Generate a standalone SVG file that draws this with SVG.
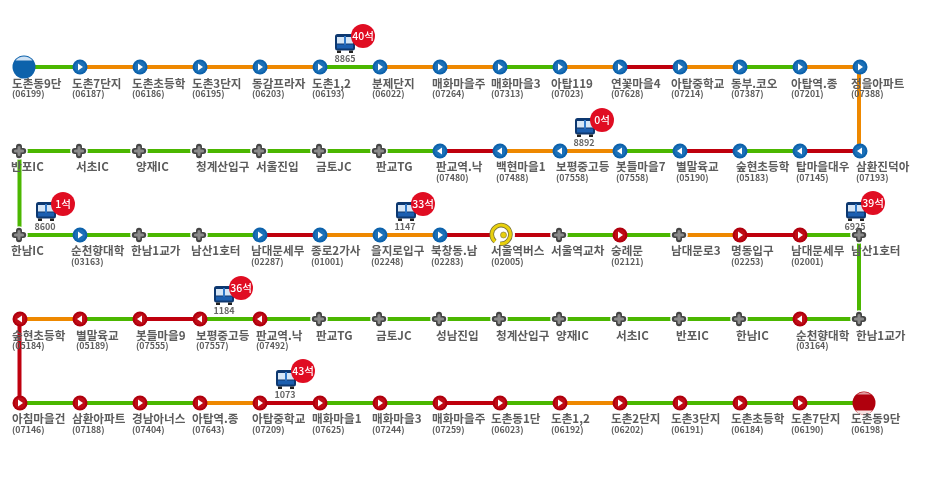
<svg xmlns="http://www.w3.org/2000/svg" width="939" height="478" viewBox="0 0 939 478">
<style>
text{font-family:"Noto Sans CJK KR","Noto Sans",sans-serif;fill:#5c5c5c}
.n{font-size:11.6px;font-weight:700}
.c{font-size:8.8px;font-weight:700}
.b{font-size:9px;text-anchor:middle;font-weight:700;fill:#666}
.s{font-size:10.5px;fill:#fff;text-anchor:middle;font-weight:500}
.g,.o,.r{fill:none;stroke-width:4}
.g{stroke:#4cb700}.o{stroke:#ee8800}.r{stroke:#bf0010}
.x0{stroke:#444;stroke-width:6;stroke-linecap:round;fill:none}
.x1{stroke:#8a8a8a;stroke-width:3;stroke-linecap:round;fill:none}
</style>
<defs>
<filter id="soft" x="0" y="0" width="100%" height="100%"><feGaussianBlur stdDeviation="0.4"/></filter>
<symbol id="bl" overflow="visible"><circle r="7.5" fill="#0e62ab"/><circle r="5.5" fill="#1a70b8"/><path d="M-2-3.5 3 0-2 3.5Z" fill="#fff"/></symbol>
<symbol id="bll" overflow="visible"><circle r="7.5" fill="#0e62ab"/><circle r="5.5" fill="#1a70b8"/><path d="M2-3.5-3 0 2 3.5Z" fill="#fff"/></symbol>
<symbol id="rr" overflow="visible"><circle r="7.5" fill="#b0050f"/><circle r="5.5" fill="#bf0a18"/><path d="M-2-3.5 3 0-2 3.5Z" fill="#fff"/></symbol>
<symbol id="rl" overflow="visible"><circle r="7.5" fill="#b0050f"/><circle r="5.5" fill="#bf0a18"/><path d="M2-3.5-3 0 2 3.5Z" fill="#fff"/></symbol>
<symbol id="pl" overflow="visible"><circle r="8.8" fill="#fff"/><path class="x0" d="M0-4.2V4.2M-4.2 0H4.2"/><path class="x1" d="M0-3.6V3.6M-3.6 0H3.6"/></symbol>
<symbol id="bus" overflow="visible"><rect x="0" y="0" width="20" height="16.5" rx="2.5" fill="#10396f"/><rect x="2" y="3" width="16" height="6.5" fill="#d6e6f6"/><rect x="9" y="2" width="2" height="10" fill="#2f77c8"/><rect x="2" y="10.5" width="16" height="4" fill="#1d5fb0"/><rect x="2" y="16.5" width="4" height="2.5" fill="#222"/><rect x="14" y="16.5" width="4" height="2.5" fill="#222"/></symbol>
<symbol id="bd" overflow="visible"><circle r="12" fill="#e00c24"/></symbol>
</defs>
<rect width="939" height="478" fill="#fff"/>
<g filter="url(#soft)">
<g id="connectors">
<path class="g" d="M24 67H80M320 67H380M500 67H560M740 67H800M440 151H20M680 151H620M800 151H740M19.5 151V235M20 235H260M560 235H680M800 235H860M859 235V319M860 319H200M140 319H80M20 403H200M320 403H440M500 403H560M620 403H860"/>
<path class="o" d="M80 67H320M380 67H500M560 67H620M680 67H740M800 67H860M859 67V151M620 151H500M320 235H440M680 235H740M80 319H20M200 403H260M560 403H620"/>
<path class="r" d="M620 67H680M860 151H800M740 151H680M500 151H440M260 235H320M440 235H560M740 235H800M200 319H140M19.5 319V403M260 403H320M440 403H500"/>
</g>
<g id="r1-01"><circle cx="24" cy="67" r="11.5" fill="#0e62ab"/><path d="M15.5 60.5A11 11 0 0 1 32.5 60.5Z" fill="#cfe2f4"/><text class="n" x="12" y="87.5">도촌동9단</text><text class="c" x="12" y="97">(06199)</text></g>
<g id="r1-02"><use href="#bl" x="80" y="67"/><text class="n" x="72" y="87.5">도촌7단지</text><text class="c" x="72" y="97">(06187)</text></g>
<g id="r1-03"><use href="#bl" x="140" y="67"/><text class="n" x="132" y="87.5">도촌초등학</text><text class="c" x="132" y="97">(06186)</text></g>
<g id="r1-04"><use href="#bl" x="200" y="67"/><text class="n" x="192" y="87.5">도촌3단지</text><text class="c" x="192" y="97">(06195)</text></g>
<g id="r1-05"><use href="#bl" x="260" y="67"/><text class="n" x="252" y="87.5">동감프라자</text><text class="c" x="252" y="97">(06203)</text></g>
<g id="r1-06"><use href="#bl" x="320" y="67"/><text class="n" x="312" y="87.5">도촌1,2</text><text class="c" x="312" y="97">(06193)</text></g>
<g id="r1-07"><use href="#bl" x="380" y="67"/><text class="n" x="372" y="87.5">분제단지</text><text class="c" x="372" y="97">(06022)</text></g>
<g id="r1-08"><use href="#bl" x="440" y="67"/><text class="n" x="432" y="87.5">매화마을주</text><text class="c" x="432" y="97">(07264)</text></g>
<g id="r1-09"><use href="#bl" x="500" y="67"/><text class="n" x="491" y="87.5">매화마을3</text><text class="c" x="491" y="97">(07313)</text></g>
<g id="r1-10"><use href="#bl" x="560" y="67"/><text class="n" x="551" y="87.5">아탑119</text><text class="c" x="551" y="97">(07023)</text></g>
<g id="r1-11"><use href="#bl" x="620" y="67"/><text class="n" x="611" y="87.5">연꽃마을4</text><text class="c" x="611" y="97">(07628)</text></g>
<g id="r1-12"><use href="#bl" x="680" y="67"/><text class="n" x="671" y="87.5">아탑중학교</text><text class="c" x="671" y="97">(07214)</text></g>
<g id="r1-13"><use href="#bl" x="740" y="67"/><text class="n" x="731" y="87.5">동부.코오</text><text class="c" x="731" y="97">(07387)</text></g>
<g id="r1-14"><use href="#bl" x="800" y="67"/><text class="n" x="791" y="87.5">아탑역.종</text><text class="c" x="791" y="97">(07201)</text></g>
<g id="r1-15"><use href="#bl" x="860" y="67"/><text class="n" x="851" y="87.5">정을아파트</text><text class="c" x="851" y="97">(07388)</text></g>

<g id="r2-01"><use href="#pl" x="19" y="151"/><text class="n" x="11" y="171">반포IC</text></g>
<g id="r2-02"><use href="#pl" x="79" y="151"/><text class="n" x="76" y="171">서초IC</text></g>
<g id="r2-03"><use href="#pl" x="139" y="151"/><text class="n" x="136" y="171">양재IC</text></g>
<g id="r2-04"><use href="#pl" x="199" y="151"/><text class="n" x="196" y="171">청계산입구</text></g>
<g id="r2-05"><use href="#pl" x="259" y="151"/><text class="n" x="256" y="171">서울진입</text></g>
<g id="r2-06"><use href="#pl" x="319" y="151"/><text class="n" x="316" y="171">금토JC</text></g>
<g id="r2-07"><use href="#pl" x="379" y="151"/><text class="n" x="376" y="171">판교TG</text></g>
<g id="r2-08"><use href="#bll" x="440" y="151"/><text class="n" x="436" y="171">판교역.낙</text><text class="c" x="436" y="181">(07480)</text></g>
<g id="r2-09"><use href="#bll" x="500" y="151"/><text class="n" x="496" y="171">백현마을1</text><text class="c" x="496" y="181">(07488)</text></g>
<g id="r2-10"><use href="#bll" x="560" y="151"/><text class="n" x="556" y="171">보평중고등</text><text class="c" x="556" y="181">(07558)</text></g>
<g id="r2-11"><use href="#bll" x="620" y="151"/><text class="n" x="616" y="171">봇들마을7</text><text class="c" x="616" y="181">(07558)</text></g>
<g id="r2-12"><use href="#bll" x="680" y="151"/><text class="n" x="676" y="171">별말육교</text><text class="c" x="676" y="181">(05190)</text></g>
<g id="r2-13"><use href="#bll" x="740" y="151"/><text class="n" x="736" y="171">숲현초등학</text><text class="c" x="736" y="181">(05183)</text></g>
<g id="r2-14"><use href="#bll" x="800" y="151"/><text class="n" x="796" y="171">탑마을대우</text><text class="c" x="796" y="181">(07145)</text></g>
<g id="r2-15"><use href="#bll" x="860" y="151"/><text class="n" x="856" y="171">삼환진덕아</text><text class="c" x="856" y="181">(07193)</text></g>

<g id="r3-01"><use href="#pl" x="19" y="235"/><text class="n" x="11" y="255">한남IC</text></g>
<g id="r3-02"><use href="#bl" x="80" y="235"/><text class="n" x="71" y="255">순천향대학</text><text class="c" x="71" y="265">(03163)</text></g>
<g id="r3-03"><use href="#pl" x="139" y="235"/><text class="n" x="131" y="255">한남1교가</text></g>
<g id="r3-04"><use href="#pl" x="199" y="235"/><text class="n" x="191" y="255">남산1호터</text></g>
<g id="r3-05"><use href="#bl" x="260" y="235"/><text class="n" x="251" y="255">남대문세무</text><text class="c" x="251" y="265">(02287)</text></g>
<g id="r3-06"><use href="#bl" x="320" y="235"/><text class="n" x="311" y="255">종로2가사</text><text class="c" x="311" y="265">(01001)</text></g>
<g id="r3-07"><use href="#bl" x="380" y="235"/><text class="n" x="371" y="255">을지로입구</text><text class="c" x="371" y="265">(02248)</text></g>
<g id="r3-08"><use href="#bl" x="440" y="235"/><text class="n" x="431" y="255">북창동.남</text><text class="c" x="431" y="265">(02283)</text></g>
<g id="r3-09"><circle cx="503.5" cy="235" r="11.5" fill="#fff"/><path d="M495 241.5A9.3 9.3 0 1 1 500 243.7" fill="none" stroke="#77713a" stroke-width="4.6"/><path d="M495 241.5A9.3 9.3 0 1 1 500 243.7" fill="none" stroke="#e8d010" stroke-width="3"/><circle cx="503.5" cy="235" r="3" fill="#e8d010" stroke="#77713a" stroke-width=".6"/><text class="n" x="491" y="255">서울역버스</text><text class="c" x="491" y="265">(02005)</text></g>
<g id="r3-10"><use href="#pl" x="559" y="235"/><text class="n" x="551" y="255">서울역교차</text></g>
<g id="r3-11"><use href="#rr" x="620" y="235"/><text class="n" x="611" y="255">숭례문</text><text class="c" x="611" y="265">(02121)</text></g>
<g id="r3-12"><use href="#pl" x="679" y="235"/><text class="n" x="671" y="255">남대문로3</text></g>
<g id="r3-13"><use href="#rr" x="740" y="235"/><text class="n" x="731" y="255">명동입구</text><text class="c" x="731" y="265">(02253)</text></g>
<g id="r3-14"><use href="#rr" x="800" y="235"/><text class="n" x="791" y="255">남대문세무</text><text class="c" x="791" y="265">(02001)</text></g>
<g id="r3-15"><use href="#pl" x="859" y="235"/><text class="n" x="851" y="255">남산1호터</text></g>

<g id="r4-01"><use href="#rl" x="20" y="319"/><text class="n" x="12" y="340">숲현초등학</text><text class="c" x="12" y="349">(05184)</text></g>
<g id="r4-02"><use href="#rl" x="80" y="319"/><text class="n" x="76" y="340">별말육교</text><text class="c" x="76" y="349">(05189)</text></g>
<g id="r4-03"><use href="#rl" x="140" y="319"/><text class="n" x="136" y="340">봇들마을9</text><text class="c" x="136" y="349">(07555)</text></g>
<g id="r4-04"><use href="#rl" x="200" y="319"/><text class="n" x="196" y="340">보평중고등</text><text class="c" x="196" y="349">(07557)</text></g>
<g id="r4-05"><use href="#rl" x="260" y="319"/><text class="n" x="256" y="340">판교역.낙</text><text class="c" x="256" y="349">(07492)</text></g>
<g id="r4-06"><use href="#pl" x="319" y="319"/><text class="n" x="316" y="340">판교TG</text></g>
<g id="r4-07"><use href="#pl" x="379" y="319"/><text class="n" x="376" y="340">금토JC</text></g>
<g id="r4-08"><use href="#pl" x="439" y="319"/><text class="n" x="436" y="340">성남진입</text></g>
<g id="r4-09"><use href="#pl" x="499" y="319"/><text class="n" x="496" y="340">청계산입구</text></g>
<g id="r4-10"><use href="#pl" x="559" y="319"/><text class="n" x="556" y="340">양재IC</text></g>
<g id="r4-11"><use href="#pl" x="619" y="319"/><text class="n" x="616" y="340">서초IC</text></g>
<g id="r4-12"><use href="#pl" x="679" y="319"/><text class="n" x="676" y="340">반포IC</text></g>
<g id="r4-13"><use href="#pl" x="739" y="319"/><text class="n" x="736" y="340">한남IC</text></g>
<g id="r4-14"><use href="#rl" x="800" y="319"/><text class="n" x="796" y="340">순천향대학</text><text class="c" x="796" y="349">(03164)</text></g>
<g id="r4-15"><use href="#pl" x="859" y="319"/><text class="n" x="856" y="340">한남1교가</text></g>

<g id="r5-01"><use href="#rr" x="20" y="403"/><text class="n" x="12" y="423">아침마을건</text><text class="c" x="12" y="433">(07146)</text></g>
<g id="r5-02"><use href="#rr" x="80" y="403"/><text class="n" x="72" y="423">삼환아파트</text><text class="c" x="72" y="433">(07188)</text></g>
<g id="r5-03"><use href="#rr" x="140" y="403"/><text class="n" x="132" y="423">경남아너스</text><text class="c" x="132" y="433">(07404)</text></g>
<g id="r5-04"><use href="#rr" x="200" y="403"/><text class="n" x="192" y="423">아탑역.종</text><text class="c" x="192" y="433">(07643)</text></g>
<g id="r5-05"><use href="#rr" x="260" y="403"/><text class="n" x="252" y="423">아탑중학교</text><text class="c" x="252" y="433">(07209)</text></g>
<g id="r5-06"><use href="#rr" x="320" y="403"/><text class="n" x="312" y="423">매화마을1</text><text class="c" x="312" y="433">(07625)</text></g>
<g id="r5-07"><use href="#rr" x="380" y="403"/><text class="n" x="372" y="423">매화마을3</text><text class="c" x="372" y="433">(07244)</text></g>
<g id="r5-08"><use href="#rr" x="440" y="403"/><text class="n" x="432" y="423">매화마을주</text><text class="c" x="432" y="433">(07259)</text></g>
<g id="r5-09"><use href="#rr" x="500" y="403"/><text class="n" x="491" y="423">도촌동1단</text><text class="c" x="491" y="433">(06023)</text></g>
<g id="r5-10"><use href="#rr" x="560" y="403"/><text class="n" x="551" y="423">도촌1,2</text><text class="c" x="551" y="433">(06192)</text></g>
<g id="r5-11"><use href="#rr" x="620" y="403"/><text class="n" x="611" y="423">도촌2단지</text><text class="c" x="611" y="433">(06202)</text></g>
<g id="r5-12"><use href="#rr" x="680" y="403"/><text class="n" x="671" y="423">도촌3단지</text><text class="c" x="671" y="433">(06191)</text></g>
<g id="r5-13"><use href="#rr" x="740" y="403"/><text class="n" x="731" y="423">도촌초등학</text><text class="c" x="731" y="433">(06184)</text></g>
<g id="r5-14"><use href="#rr" x="800" y="403"/><text class="n" x="791" y="423">도촌7단지</text><text class="c" x="791" y="433">(06190)</text></g>
<g id="r5-15"><circle cx="864" cy="403" r="11.5" fill="#b0050f"/><path d="M855.5 410.5A11 11 0 0 0 872.5 410.5Z" fill="#f6e0e0"/><path d="M857 394.5A11 11 0 0 1 871 394.5Z" fill="#e09a9e"/><text class="n" x="851" y="423">도촌동9단</text><text class="c" x="851" y="433">(06198)</text></g>

<g id="bus-8865"><use href="#bus" x="335" y="34"/><use href="#bd" x="363" y="36"/><text class="s" x="363" y="40">40석</text><text class="b" x="345" y="62">8865</text></g>
<g id="bus-8892"><use href="#bus" x="575" y="118"/><use href="#bd" x="602" y="120"/><text class="s" x="602" y="124">0석</text><text class="b" x="584" y="146">8892</text></g>
<g id="bus-8600"><use href="#bus" x="36" y="202"/><use href="#bd" x="63" y="204"/><text class="s" x="63" y="208">1석</text><text class="b" x="45" y="230">8600</text></g>
<g id="bus-1147"><use href="#bus" x="396" y="202"/><use href="#bd" x="423" y="204"/><text class="s" x="423" y="208">33석</text><text class="b" x="405" y="230">1147</text></g>
<g id="bus-6925"><use href="#bus" x="846" y="202"/><use href="#bd" x="873" y="203"/><text class="s" x="873" y="207">39석</text><text class="b" x="855" y="230">6925</text></g>
<g id="bus-1184"><use href="#bus" x="214" y="286"/><use href="#bd" x="241" y="288"/><text class="s" x="241" y="292">36석</text><text class="b" x="224" y="314">1184</text></g>
<g id="bus-1073"><use href="#bus" x="276" y="370"/><use href="#bd" x="303" y="371"/><text class="s" x="303" y="375">43석</text><text class="b" x="285" y="398">1073</text></g>
</g>
</svg>
